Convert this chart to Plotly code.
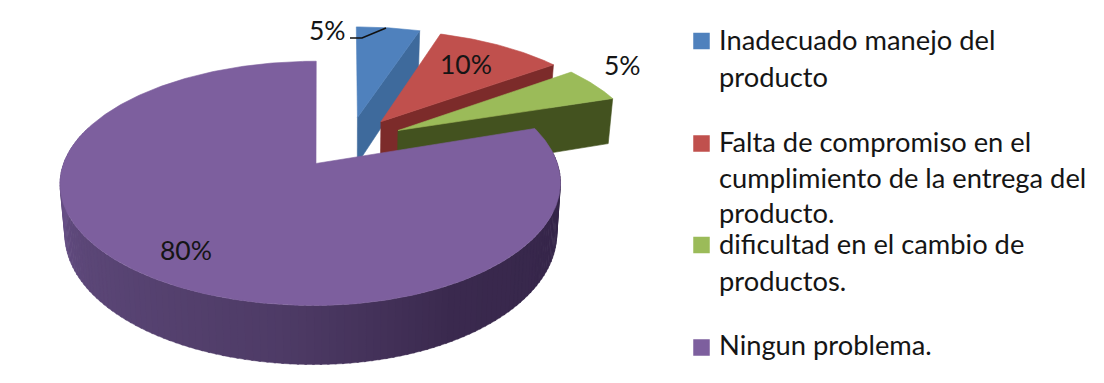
import numpy as np
import plotly.graph_objects as go

# Survey results
categories = [
    "Inadecuado manejo del<br>producto",
    "Falta de compromiso en el<br>cumplimiento de la entrega del<br>producto.",
    "dificultad en el cambio de<br>productos.",
    "Ningun problema.",
]
values = [5, 10, 5, 80]

top_colors = ["#4F81BD", "#C0504D", "#9BBB59", "#7D5F9E"]
side_colors = ["#3E6A9C", "#7C2B2A", "#43521F"]
rim_stops = [(0.0, (112, 87, 146)), (0.25, (92, 71, 120)), (0.5, (78, 59, 102)),
             (0.68, (58, 41, 78)), (1.0, (52, 37, 72))]

# Camera and pie geometry
CX, CY = 349.0, 142.0
RX, RY = 243.0, 112.0
PERSP = 0.158
EXPLODE = 0.23
DEPTH = 48.0
BASE_SCALE = 0.983
BIG_SKEW = -4.5
BIG_RIGHT = 0.964
BIG_LEFT = 1.008
FONT = "Lato"
LABEL_SIZE = 26.5
LEGEND_SIZE = 27.3


def project(wx, wy, low=False, skew=0.0):
    """Map disc coordinates to the plot, optionally on the lower face."""
    w = 1 + PERSP * wy
    x = RX * wx / w + skew * wy
    y = CY - RY * wy / w
    if low:
        x *= BASE_SCALE
        y += DEPTH / w
    return CX + x, y


def rim_color(t):
    for (a, ca), (b, cb) in zip(rim_stops, rim_stops[1:]):
        if t <= b:
            f = (t - a) / (b - a)
            c = [round(ca[i] + (cb[i] - ca[i]) * f) for i in range(3)]
            return f"rgb({c[0]},{c[1]},{c[2]})"
    return "rgb(52,37,72)"


def poly(fig, xs, ys, color, width=0.6):
    fig.add_trace(go.Scatter(
        x=list(xs) + [xs[0]], y=list(ys) + [ys[0]], mode="lines", fill="toself",
        fillcolor=color, line=dict(color=color, width=width),
        hoverinfo="skip", showlegend=False,
    ))


fig = go.Figure()

total = sum(values)
edges = np.cumsum([0] + values) / total * 2 * np.pi

for i in range(len(values)):
    a0, a1 = edges[i], edges[i + 1]
    mid = (a0 + a1) / 2
    ox, oy = EXPLODE * np.sin(mid), EXPLODE * np.cos(mid)
    big = values[i] >= 50
    skew = BIG_SKEW if big else 0.0

    def on_disc(a):
        # The large slice is drawn a little narrower right and wider left
        s = np.sin(a)
        s = np.where(s > 0, s * BIG_RIGHT, s * BIG_LEFT) if big else s
        return ox + s, oy + np.cos(a)

    ang = np.linspace(a0, a1, max(12, int(values[i] * 5)))
    wx, wy = on_disc(ang)

    if not big:
        # Cut face on the clockwise side of the wedge
        ex, ey = on_disc(a1)
        p = [project(ox, oy), project(ex, ey), project(ex, ey, True), project(ox, oy, True)]
        poly(fig, [q[0] for q in p], [q[1] for q in p], side_colors[i])
    else:
        # Outer wall as narrow shaded strips, lighter toward the left
        lo, hi = np.radians(84), np.radians(288)
        for s0 in np.radians(np.arange(84, 288, 1.5)):
            s1 = s0 + np.radians(1.9)
            t = (hi - s0) / (hi - lo)
            p = [project(*on_disc(s0), skew=skew),
                 project(*on_disc(s1), skew=skew),
                 project(*on_disc(s1), low=True, skew=skew),
                 project(*on_disc(s0), low=True, skew=skew)]
            poly(fig, [q[0] for q in p], [q[1] for q in p], rim_color(t), width=0.4)

    tx, ty = project(wx, wy, skew=skew)
    ax, ay = project(ox, oy, skew=skew)
    poly(fig, [ax] + list(tx), [ay] + list(ty), top_colors[i])

# Leader line for the first label
fig.add_trace(go.Scatter(
    x=[350, 362, 386], y=[38, 38, 28], mode="lines",
    line=dict(color="#111111", width=1.7), hoverinfo="skip", showlegend=False,
))

# Legend swatches
legend_x = 701.5
legend_y = [41, 143.5, 245, 347.5]
fig.add_trace(go.Scatter(
    x=[legend_x] * len(values), y=legend_y, mode="markers",
    marker=dict(symbol="square", size=16.5, color=top_colors),
    hoverinfo="skip", showlegend=False,
))

annotations = []
label_pos = [(327, 30), (466, 64), (622, 65), (186, 250)]
for v, (x, y) in zip(values, label_pos):
    annotations.append(dict(x=x, y=y, text=f"{v}%", showarrow=False,
                            font=dict(family=FONT, size=LABEL_SIZE, color="#151515")))

legend_line_y = [[39.5, 76.5], [141.5, 177.5, 212.5], [243.5, 280.5], [344.5]]
for name, rows in zip(categories, legend_line_y):
    for line, y in zip(name.split("<br>"), rows):
        annotations.append(dict(x=716.5, y=y, text=line, showarrow=False, xanchor="left",
                                font=dict(family=FONT, size=LEGEND_SIZE, color="#151515")))

fig.update_layout(
    width=1104, height=383, margin=dict(l=0, r=0, t=0, b=0),
    paper_bgcolor="white", plot_bgcolor="white", showlegend=False,
    xaxis=dict(range=[0, 1104], visible=False, fixedrange=True),
    yaxis=dict(range=[383, 0], visible=False, fixedrange=True),
    annotations=annotations,
)

fig.write_html("out.html", config=dict(displayModeBar=False))
